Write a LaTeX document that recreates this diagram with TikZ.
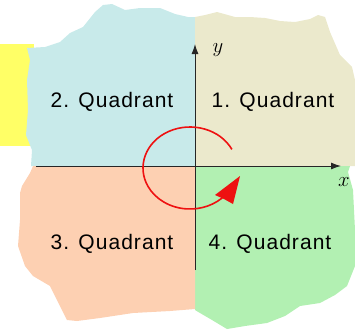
\documentclass[tikz,border=0pt]{standalone}
\usepackage{fontspec}
\setmainfont{Liberation Sans}
\newfontfamily\quadfont[LetterSpace=5]{Liberation Sans}
\usepackage{xcolor}
\usepackage{tikz}
\usetikzlibrary{arrows.meta, calc}

\definecolor{qone}{HTML}{EBE9CC}
\definecolor{qtwo}{HTML}{C8EAEA}
\definecolor{qthree}{HTML}{FDD0B2}
\definecolor{qfour}{HTML}{B2F0B2}
\definecolor{band}{HTML}{FFFF66}
\definecolor{turnred}{HTML}{EE1111}

\begin{document}
\begin{tikzpicture}[
    x=1pt, y=-1pt,
    quad/.style={
        anchor=base,
        inner sep=0pt,
        font=\quadfont\fontsize{21}{25}\selectfont
    },
    axlabel/.style={inner sep=0pt, font=\fontsize{22}{22}\selectfont},
    axis/.style={-{Latex[length=10pt, width=7pt]}, line width=1pt, black!85},
    turn/.style={line width=1.6pt, turnred}
]
\useasboundingbox (0,0) rectangle (355,332);

\def\ox{195}
\def\oy{166}

% Yellow band
\fill[band] (0,44) rectangle (34,146);

% Quadrants
\fill[qtwo] (\ox,\oy) -- (31,\oy) -- (32,150) -- (26,135) -- (28,110) -- (27,80) -- (30,60)
    -- (27,48) -- (45,47) -- (60,42) -- (70,33) -- (83,27) -- (95,12) -- (103,5) -- (112,4)
    -- (125,10) -- (140,8) -- (160,8) -- (175,14) -- (188,17) -- (\ox,17) -- cycle;
\fill[qone] (\ox,\oy) -- (\ox,17) -- (205,15) -- (217,12) -- (235,17) -- (250,17) -- (265,18)
    -- (280,21) -- (295,22) -- (310,19) -- (318,15) -- (325,17) -- (330,32) -- (340,55)
    -- (352,67) -- (355,80) -- (355,\oy) -- cycle;
\fill[qfour] (\ox,\oy) -- (350,\oy) -- (348,172) -- (353,190) -- (355,230) -- (355,266)
    -- (347,286) -- (335,295) -- (320,303) -- (300,306) -- (285,316) -- (267,323)
    -- (245,326) -- (227,329) -- (212,320) -- (200,313) -- (\ox,310) -- cycle;
\fill[qthree] (\ox,\oy) -- (\ox,309) -- (170,311) -- (133,313) -- (100,318) -- (77,321)
    -- (67,320) -- (57,300) -- (50,286) -- (33,276) -- (25,266) -- (18,246) -- (20,220)
    -- (20,193) -- (22,186) -- (30,173) -- (33,\oy) -- cycle;

% Labels
\node[quad] (q1) at (273,107) {1. Quadrant};
\node[quad] (q2) at (112,107) {2. Quadrant};
\node[quad] (q3) at (112,249) {3. Quadrant};
\node[quad] (q4) at (270,249) {4. Quadrant};

% Axes
\coordinate (xs) at (36,\oy);
\coordinate (xe) at (341,\oy);
\coordinate (ys) at (\ox,270);
\coordinate (ye) at (\ox,44);
\draw[axis] (xs) -- (xe);
\draw[axis] (ys) -- (ye);
\node[axlabel] (xl) at (344,182) {$x$};
\node[axlabel] (yl) at (218,50) {$y$};

% Rotation
\draw[turn] (190,168) ++(-27:47 and 41) arc[start angle=-27, end angle=-318, x radius=47, y radius=41];
\fill[turnred] (240,176) -- (233,204) -- (224,199) -- (215,195) -- cycle;

\end{tikzpicture}
\end{document}
